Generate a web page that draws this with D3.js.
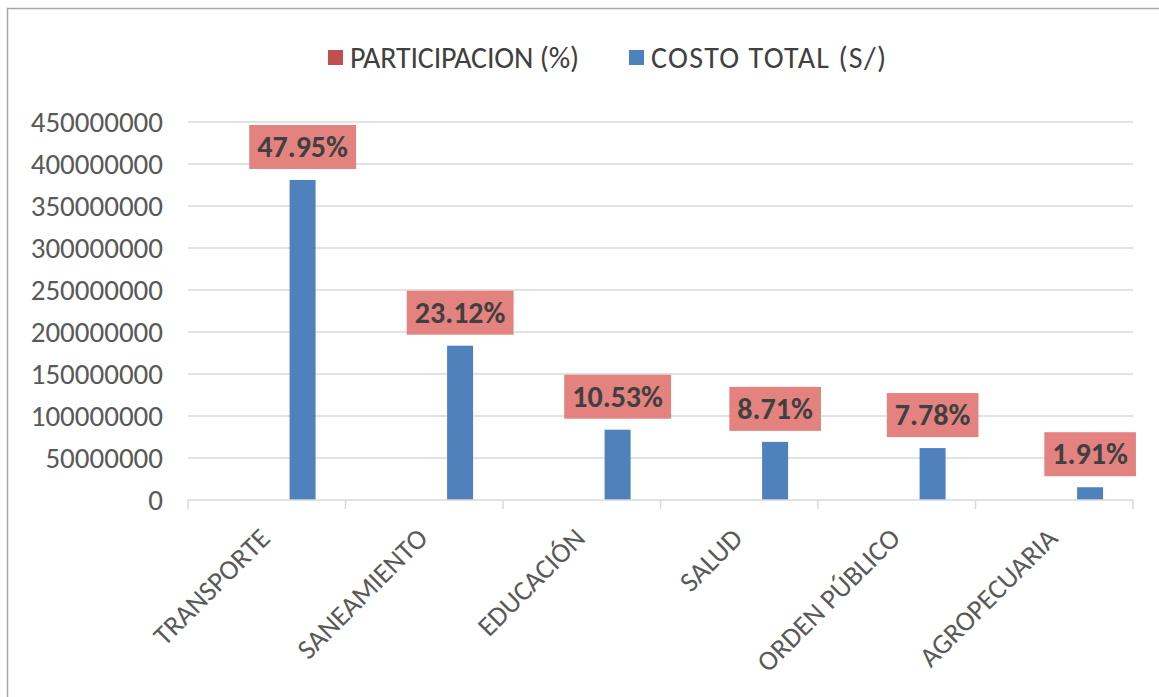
<!DOCTYPE html>
<html>
<head>
<meta charset="utf-8">
<script src="https://cdn.jsdelivr.net/npm/d3@7"></script>
<style>
  body { margin: 0; background: #fff; }
  text { font-family: Carlito, 'Open Sans', sans-serif; }
</style>
</head>
<body>
<div class="chart"></div>
<script>
const categories = ['TRANSPORTE', 'SANEAMIENTO', 'EDUCACIÓN', 'SALUD', 'ORDEN PÚBLICO', 'AGROPECUARIA']
const participacion = [47.95, 23.12, 10.53, 8.71, 7.78, 1.91]
const costoTotal = [381000000, 183700000, 83700000, 69200000, 61800000, 15200000]
const yTicks = [0, 50000000, 100000000, 150000000, 200000000, 250000000, 300000000, 350000000, 400000000, 450000000]
const seriesNames = ['PARTICIPACION (%)', 'COSTO TOTAL (S/)']
const seriesColors = ['#c0504d', '#4f81bd']

const W = 1159, H = 697
const margin = {left: 188, right: 26, top: 122, bottom: 197}

let svg = d3.select('.chart')
  .append('svg')
  .attr('width', W)
  .attr('height', H)

// chart frame (only top & left edges are visible)
svg.append('rect')
  .attr('x', 7.5).attr('y', 8.5)
  .attr('width', W + 20).attr('height', H + 20)
  .attr('fill', 'none')
  .attr('stroke', '#a6a6a6')
  .attr('stroke-width', 1.5)

let x = d3.scaleBand()
  .domain(categories)
  .range([margin.left, W - margin.right])

// sub-band for the two series inside each category
let x1 = d3.scaleBand()
  .domain(seriesNames)
  .range([x.bandwidth() * 0.48, x.bandwidth() * 0.81])

let y = d3.scaleLinear()
  .domain([0, 450000000])
  .range([H - margin.bottom, margin.top])

// gridlines
svg.append('g').selectAll('line')
  .data(yTicks.slice(1))
  .enter()
  .append('line')
  .attr('x1', margin.left)
  .attr('x2', W - margin.right)
  .attr('y1', d => y(d))
  .attr('y2', d => y(d))
  .attr('stroke', '#d9d9d9')
  .attr('stroke-width', 1.5)

// y labels
svg.append('g').selectAll('text')
  .data(yTicks)
  .enter()
  .append('text')
  .attr('x', 163)
  .attr('y', d => y(d))
  .attr('dy', '0.34em')
  .attr('text-anchor', 'end')
  .attr('font-size', 29)
  .attr('fill', '#595959')
  .text(d => d)

// bars
svg.append('g').selectAll('rect')
  .data(categories)
  .enter()
  .append('rect')
  .attr('x', d => x(d) + x1(seriesNames[1]))
  .attr('width', x1.bandwidth())
  .attr('y', (d, i) => y(costoTotal[i]))
  .attr('height', (d, i) => y(0) - y(costoTotal[i]))
  .attr('fill', seriesColors[1])

// x axis line and ticks
let baseY = y(0)
svg.append('line')
  .attr('x1', margin.left).attr('x2', W - margin.right)
  .attr('y1', baseY).attr('y2', baseY)
  .attr('stroke', '#d9d9d9').attr('stroke-width', 1.5)

svg.append('g').selectAll('line')
  .data(categories.concat(['end']))
  .enter()
  .append('line')
  .attr('x1', (d, i) => i < categories.length ? x(d) : W - margin.right)
  .attr('x2', (d, i) => i < categories.length ? x(d) : W - margin.right)
  .attr('y1', baseY).attr('y2', baseY + 9)
  .attr('stroke', '#d9d9d9').attr('stroke-width', 1.5)

// category labels
svg.append('g').selectAll('text')
  .data(categories)
  .enter()
  .append('text')
  .attr('transform', d => `translate(${x(d) + x.bandwidth() / 2 + 5},${baseY + 40}) rotate(-45)`)
  .attr('text-anchor', 'end')
  .attr('font-size', 28)
  .attr('fill', '#595959')
  .text(d => d)

// data labels for PARTICIPACION
let labels = svg.append('g').selectAll('g')
  .data(categories)
  .enter()
  .append('g')
  .attr('transform', (d, i) => `translate(${x(d) + x1(seriesNames[1]) + x1.bandwidth() / 2},${y(costoTotal[i]) - 33})`)

labels.append('text')
  .attr('text-anchor', 'middle')
  .attr('dy', '0.34em')
  .attr('font-size', 30)
  .attr('font-weight', 'bold')
  .attr('fill', '#404040')
  .text((d, i) => participacion[i].toFixed(2) + '%')

// label boxes, kept inside the plot's right edge
labels.each(function() {
  let g = d3.select(this)
  let t = g.select('text')
  let bb = t.node().getBBox()
  let cx = +g.attr('transform').match(/translate\(([\d.]+)/)[1]
  let shift = Math.min(0, (W - 22) - (cx + bb.x + bb.width + 8))
  t.attr('x', shift)
  g.insert('rect', 'text')
    .attr('x', bb.x - 8 + shift)
    .attr('y', -22)
    .attr('width', bb.width + 16)
    .attr('height', 44)
    .attr('fill', '#e3827f')
})

// legend
let legend = svg.append('g')
  .selectAll('g')
  .data(seriesNames)
  .enter()
  .append('g')
  .attr('transform', (d, i) => `translate(${[328, 629][i]},58)`)

legend.append('rect')
  .attr('x', 0).attr('y', -8)
  .attr('width', 15).attr('height', 15)
  .attr('fill', (d, i) => seriesColors[i])

legend.append('text')
  .attr('x', 22)
  .attr('dy', '0.34em')
  .attr('font-size', 30)
  .attr('fill', '#404040')
  .attr('textLength', (d, i) => [229, 235][i])
  .attr('lengthAdjust', 'spacing')
  .text(d => d)
</script>
</body>
</html>
